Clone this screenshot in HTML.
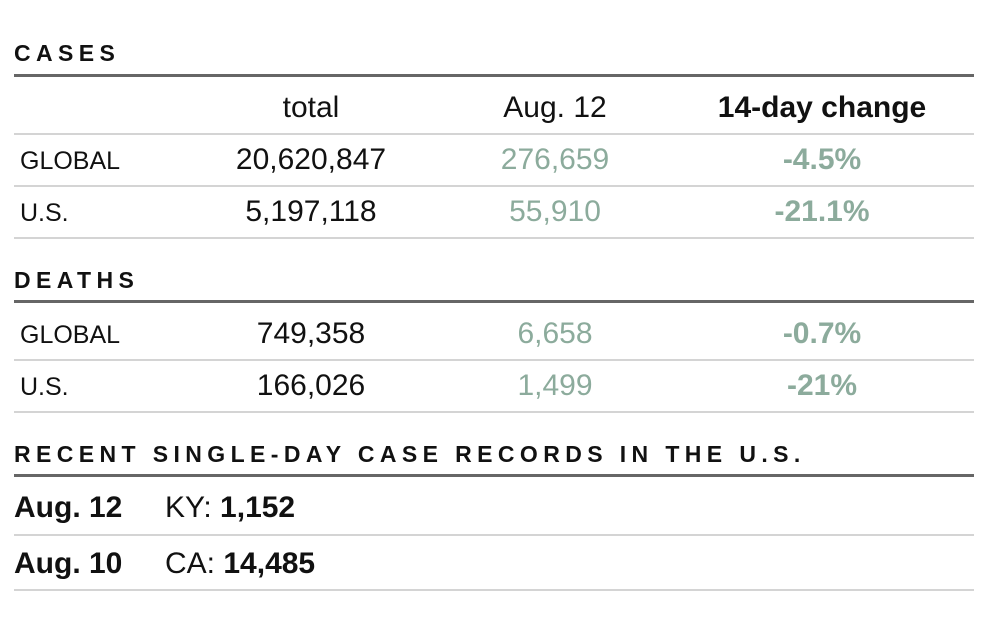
<!DOCTYPE html>
<html><head><style>
body{margin:0;width:990px;height:620px;background:#fff;font-family:"Liberation Sans",sans-serif;color:#111;position:relative;overflow:hidden}
.a{position:absolute;white-space:nowrap}
.t{font-weight:bold;font-size:23px;letter-spacing:5.4px;left:14px}
.thick{position:absolute;left:14px;width:960px;height:3px;background:#666}
.thin{position:absolute;left:14px;width:960px;height:2px;background:#d4d4d4}
.lab{left:20px;font-size:25px}
.c{font-size:30px;transform:translateX(-50%)}
.g{color:#8cab9c}
.gb{color:#8cab9c;font-weight:bold}
.r{font-size:30px}
</style></head><body>
<div class="a t" style="top:40px">CASES</div>
<div class="thick" style="top:74px"></div>
<div class="a c" style="left:311px;top:91px">total</div>
<div class="a c" style="left:555px;top:91px">Aug. 12</div>
<div class="a c" style="left:822px;top:91px;font-weight:bold">14-day change</div>
<div class="thin" style="top:133px"></div>
<div class="a lab" style="top:147px">GLOBAL</div>
<div class="a c" style="left:311px;top:143px">20,620,847</div>
<div class="a c g" style="left:555px;top:143px">276,659</div>
<div class="a c gb" style="left:822px;top:143px">-4.5%</div>
<div class="thin" style="top:185px"></div>
<div class="a lab" style="top:199px">U.S.</div>
<div class="a c" style="left:311px;top:195px">5,197,118</div>
<div class="a c g" style="left:555px;top:195px">55,910</div>
<div class="a c gb" style="left:822px;top:195px">-21.1%</div>
<div class="thin" style="top:237px"></div>

<div class="a t" style="top:267px">DEATHS</div>
<div class="thick" style="top:300px"></div>
<div class="a lab" style="top:321px">GLOBAL</div>
<div class="a c" style="left:311px;top:317px">749,358</div>
<div class="a c g" style="left:555px;top:317px">6,658</div>
<div class="a c gb" style="left:822px;top:317px">-0.7%</div>
<div class="thin" style="top:359px"></div>
<div class="a lab" style="top:373px">U.S.</div>
<div class="a c" style="left:311px;top:369px">166,026</div>
<div class="a c g" style="left:555px;top:369px">1,499</div>
<div class="a c gb" style="left:822px;top:369px">-21%</div>
<div class="thin" style="top:411px"></div>

<div class="a t" style="top:441px">RECENT SINGLE-DAY CASE RECORDS IN THE U.S.</div>
<div class="thick" style="top:474px"></div>
<div class="a r" style="left:14px;top:491px;font-weight:bold">Aug. 12</div>
<div class="a r" style="left:165px;top:491px">KY: <b>1,152</b></div>
<div class="thin" style="top:534px"></div>
<div class="a r" style="left:14px;top:547px;font-weight:bold">Aug. 10</div>
<div class="a r" style="left:165px;top:547px">CA: <b>14,485</b></div>
<div class="thin" style="top:589px"></div>
</body></html>
